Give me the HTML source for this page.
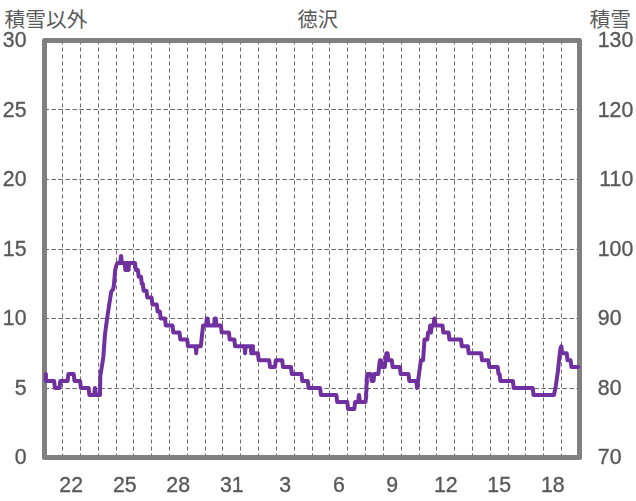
<!DOCTYPE html>
<html lang="ja">
<head>
<meta charset="utf-8">
<title>徳沢 積雪</title>
<style>
html,body{margin:0;padding:0;background:#fff;}
body{width:636px;height:501px;overflow:hidden;font-family:"Liberation Sans",sans-serif;}
svg{display:block;}
.num text{font-family:"Liberation Sans",sans-serif;font-size:21.3px;fill:#595959;stroke:#595959;stroke-width:0.35px;}
.lbl text{font-family:"Liberation Sans","Noto Sans CJK JP",sans-serif;font-size:20.5px;fill:#595959;}
</style>
</head>
<body>
<svg width="636" height="501" viewBox="0 0 636 501" role="img" aria-label="徳沢 積雪">
<rect width="636" height="501" fill="#fff"/>
<g stroke="#696969" stroke-width="1" stroke-dasharray="4 3" fill="none">
<line x1="62.5" y1="40.5" x2="62.5" y2="457.5"/>
<line x1="80.5" y1="40.5" x2="80.5" y2="457.5"/>
<line x1="98.5" y1="40.5" x2="98.5" y2="457.5"/>
<line x1="116.5" y1="40.5" x2="116.5" y2="457.5"/>
<line x1="133.5" y1="40.5" x2="133.5" y2="457.5"/>
<line x1="151.5" y1="40.5" x2="151.5" y2="457.5"/>
<line x1="169.5" y1="40.5" x2="169.5" y2="457.5"/>
<line x1="187.5" y1="40.5" x2="187.5" y2="457.5"/>
<line x1="205.5" y1="40.5" x2="205.5" y2="457.5"/>
<line x1="222.5" y1="40.5" x2="222.5" y2="457.5"/>
<line x1="240.5" y1="40.5" x2="240.5" y2="457.5"/>
<line x1="258.5" y1="40.5" x2="258.5" y2="457.5"/>
<line x1="276.5" y1="40.5" x2="276.5" y2="457.5"/>
<line x1="294.5" y1="40.5" x2="294.5" y2="457.5"/>
<line x1="312.5" y1="40.5" x2="312.5" y2="457.5"/>
<line x1="329.5" y1="40.5" x2="329.5" y2="457.5"/>
<line x1="347.5" y1="40.5" x2="347.5" y2="457.5"/>
<line x1="365.5" y1="40.5" x2="365.5" y2="457.5"/>
<line x1="383.5" y1="40.5" x2="383.5" y2="457.5"/>
<line x1="401.5" y1="40.5" x2="401.5" y2="457.5"/>
<line x1="419.5" y1="40.5" x2="419.5" y2="457.5"/>
<line x1="436.5" y1="40.5" x2="436.5" y2="457.5"/>
<line x1="454.5" y1="40.5" x2="454.5" y2="457.5"/>
<line x1="472.5" y1="40.5" x2="472.5" y2="457.5"/>
<line x1="490.5" y1="40.5" x2="490.5" y2="457.5"/>
<line x1="508.5" y1="40.5" x2="508.5" y2="457.5"/>
<line x1="525.5" y1="40.5" x2="525.5" y2="457.5"/>
<line x1="543.5" y1="40.5" x2="543.5" y2="457.5"/>
<line x1="561.5" y1="40.5" x2="561.5" y2="457.5"/>
</g>
<g stroke="#696969" stroke-width="1" stroke-dasharray="4.6 2.4" fill="none">
<line x1="44.4" y1="109.5" x2="579.5" y2="109.5"/>
<line x1="44.4" y1="179.5" x2="579.5" y2="179.5"/>
<line x1="44.4" y1="249.5" x2="579.5" y2="249.5"/>
<line x1="44.4" y1="318.5" x2="579.5" y2="318.5"/>
<line x1="44.4" y1="388.5" x2="579.5" y2="388.5"/>
</g>
<rect x="44.5" y="40.5" width="535.0" height="417.0" fill="none" stroke="#808080" stroke-width="5" stroke-linejoin="round"/>
<polyline fill="none" stroke="#7030A0" stroke-width="4" stroke-linejoin="round" stroke-linecap="round" points="45.9,374.1 45.9,381.1 54.1,381.1 54.9,388.0 59.5,388.0 60.3,381.1 67.6,381.1 68.4,374.1 73.7,374.1 74.5,381.1 80.1,381.1 80.9,388.0 88.6,388.0 89.4,394.9 94.1,394.9 94.9,388.0 95.1,388.0 95.9,394.9 100.0,395.0 100.3,376.0 102.9,360.0 103.4,356.5 104.9,335.0 107.1,318.5 109.3,304.0 111.3,291.5 113.0,289.5 113.8,286.0 115.2,270.0 116.2,266.0 117.4,262.9 120.2,262.9 121.0,255.9 121.1,255.9 121.9,262.9 124.6,262.9 125.4,269.9 125.3,269.9 126.1,262.9 125.8,262.9 126.6,269.9 126.5,269.9 127.3,262.9 127.0,262.9 127.8,269.9 127.6,269.9 128.4,262.9 127.9,262.9 128.7,269.9 128.4,269.9 129.2,262.9 135.0,262.9 135.8,269.9 137.9,269.9 138.7,276.8 141.0,276.8 141.8,283.8 142.8,283.8 143.6,290.7 146.5,290.7 147.3,297.6 151.6,297.6 152.4,304.6 156.8,304.6 157.6,311.5 159.9,311.5 160.7,318.5 165.0,318.5 165.8,325.4 172.5,325.4 173.3,332.4 179.5,332.4 180.3,339.4 187.2,339.4 188.0,346.3 195.5,346.3 196.3,353.2 196.1,353.2 196.9,346.3 200.8,346.3 201.6,339.4 201.5,339.4 202.3,332.4 202.3,332.4 203.1,325.4 206.0,325.4 206.8,318.5 207.6,318.5 208.4,325.4 214.0,325.4 214.8,318.5 215.8,318.5 216.6,325.4 220.9,325.4 221.7,332.4 228.9,332.4 229.7,339.4 234.3,339.4 235.1,346.3 244.4,346.3 245.2,353.2 245.0,353.2 245.8,346.3 250.6,346.3 251.4,353.2 251.2,353.2 252.0,346.3 251.8,346.3 252.6,353.2 252.2,353.2 253.0,346.3 252.5,346.3 253.3,353.2 257.9,353.2 258.7,360.2 269.2,360.2 270.0,367.1 275.0,367.1 275.8,360.2 282.2,360.2 283.0,367.1 291.0,367.1 291.8,374.1 301.5,374.1 302.3,381.1 307.8,381.1 308.6,388.0 320.1,388.0 320.9,394.9 336.4,394.9 337.2,401.9 347.3,401.9 348.1,408.9 354.3,408.9 355.1,401.9 358.1,401.9 358.9,394.9 359.1,394.9 359.9,401.9 365.5,401.9 366.3,394.9 365.9,394.9 366.7,388.0 366.2,388.0 367.0,381.1 366.5,381.1 367.3,374.1 370.8,374.1 371.6,381.1 373.5,381.1 374.3,374.1 378.3,374.1 379.1,367.1 379.1,367.1 379.9,360.2 381.0,360.2 381.8,367.1 384.8,367.1 385.6,360.2 385.6,360.2 386.4,353.2 387.6,353.2 388.4,360.2 391.8,360.2 392.6,367.1 399.9,367.1 400.7,374.1 408.5,374.1 409.3,381.1 416.3,381.1 417.1,388.0 417.1,388.0 420.9,360.2 423.1,360.2 424.5,339.4 427.3,339.4 428.1,332.4 429.4,332.4 430.2,325.4 430.2,325.4 431.0,332.4 431.0,332.4 431.8,325.4 433.5,325.4 434.3,318.5 434.8,318.5 435.6,325.4 442.5,325.4 443.3,332.4 448.6,332.4 449.4,339.4 461.0,339.4 461.8,346.3 467.9,346.3 468.7,353.2 481.2,353.2 482.0,360.2 488.5,360.2 489.3,367.1 497.7,367.1 498.5,374.1 499.6,374.1 500.4,381.1 512.9,381.1 513.7,388.0 532.7,388.0 533.5,394.9 554.0,394.9 555.9,385.3 557.8,372.0 559.6,355.0 560.6,347.8 561.3,346.3 562.1,353.2 566.7,353.2 567.5,360.2 570.6,360.2 571.4,367.1 578.2,367.1"/>
<g class="lbl" aria-label="積雪以外 徳沢 積雪">
<text x="4.5" y="26.6" textLength="83" lengthAdjust="spacingAndGlyphs">積雪以外</text>
<text x="297.5" y="26.6" textLength="40.5" lengthAdjust="spacingAndGlyphs">徳沢</text>
<text x="589.5" y="26.6" textLength="41.5" lengthAdjust="spacingAndGlyphs">積雪</text>
</g>
<g class="num" opacity="0.999">
<text transform="translate(26.5 47.4) scale(1 1.050)" text-anchor="end">30</text>
<text transform="translate(26.5 116.9) scale(1 1.050)" text-anchor="end">25</text>
<text transform="translate(26.5 186.4) scale(1 1.050)" text-anchor="end">20</text>
<text transform="translate(26.5 255.9) scale(1 1.050)" text-anchor="end">15</text>
<text transform="translate(26.5 325.4) scale(1 1.050)" text-anchor="end">10</text>
<text transform="translate(26.5 394.9) scale(1 1.050)" text-anchor="end">5</text>
<text transform="translate(26.5 464.4) scale(1 1.050)" text-anchor="end">0</text>
<text transform="translate(633.3 47.4) scale(1 1.050)" text-anchor="end">130</text>
<text transform="translate(633.3 116.9) scale(1 1.050)" text-anchor="end">120</text>
<text transform="translate(633.3 186.4) scale(1 1.050)" text-anchor="end">110</text>
<text transform="translate(633.3 255.9) scale(1 1.050)" text-anchor="end">100</text>
<text transform="translate(597.8 325.4) scale(1 1.050)" text-anchor="start">90</text>
<text transform="translate(597.8 394.9) scale(1 1.050)" text-anchor="start">80</text>
<text transform="translate(597.8 464.4) scale(1 1.050)" text-anchor="start">70</text>
<text transform="translate(71.2 491.7) scale(1 1.050)" text-anchor="middle">22</text>
<text transform="translate(124.8 491.7) scale(1 1.050)" text-anchor="middle">25</text>
<text transform="translate(178.2 491.7) scale(1 1.050)" text-anchor="middle">28</text>
<text transform="translate(231.8 491.7) scale(1 1.050)" text-anchor="middle">31</text>
<text transform="translate(285.2 491.7) scale(1 1.050)" text-anchor="middle">3</text>
<text transform="translate(338.8 491.7) scale(1 1.050)" text-anchor="middle">6</text>
<text transform="translate(392.2 491.7) scale(1 1.050)" text-anchor="middle">9</text>
<text transform="translate(445.8 491.7) scale(1 1.050)" text-anchor="middle">12</text>
<text transform="translate(499.2 491.7) scale(1 1.050)" text-anchor="middle">15</text>
<text transform="translate(552.8 491.7) scale(1 1.050)" text-anchor="middle">18</text>
</g>
</svg>
</body>
</html>
